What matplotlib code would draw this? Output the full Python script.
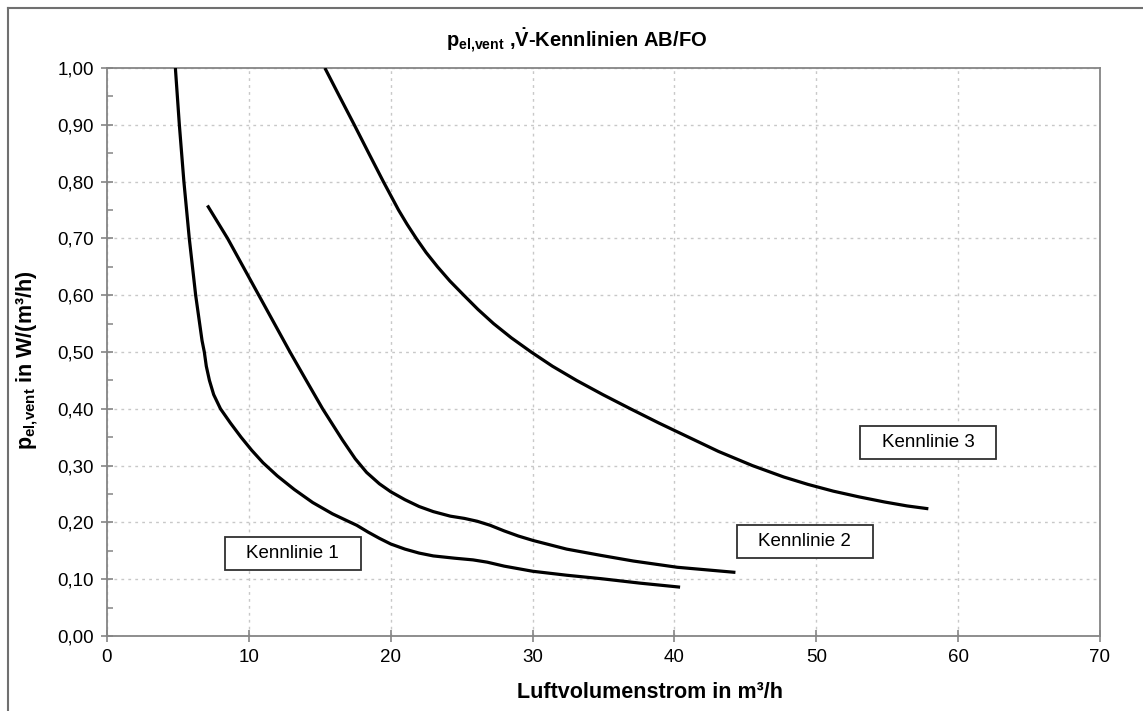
import matplotlib
matplotlib.use("Agg")
from matplotlib import pyplot as plt, patches
from matplotlib.lines import Line2D
from matplotlib.ticker import MultipleLocator

plt.rcParams['font.family'] = ['Liberation Sans', 'DejaVu Sans']
plt.rcParams['mathtext.fontset'] = 'custom'
plt.rcParams['mathtext.rm'] = 'Liberation Sans'
plt.rcParams['mathtext.it'] = 'Liberation Sans'
plt.rcParams['mathtext.bf'] = 'Liberation Sans:bold'

# Data
k1_x = [4.82, 5.1, 5.42, 5.8, 6.25, 6.7, 6.86, 7.0, 7.22, 7.52, 8.0, 8.7, 9.45,
        10.2, 11.0, 12.0, 13.2, 14.5, 15.9, 17.0, 17.6, 18.4, 19.2, 20.0, 21.0,
        22.0, 23.0, 24.5, 25.8, 26.8, 28.0, 30.0, 32.4, 34.8, 37.6, 40.4]
k1_y = [1.00, 0.90, 0.80, 0.70, 0.60, 0.52, 0.50, 0.475, 0.45, 0.425, 0.40, 0.375, 0.35,
        0.327, 0.305, 0.282, 0.258, 0.235, 0.215, 0.202, 0.195, 0.183, 0.172, 0.162, 0.153,
        0.146, 0.141, 0.137, 0.134, 0.130, 0.123, 0.114, 0.107, 0.101, 0.093, 0.086]

k2_x = [7.08, 8.5, 10.7, 12.9, 14.0, 15.2, 16.6, 17.5, 18.3, 19.2, 20.0, 21.0, 22.0,
        23.0, 24.2, 25.2, 26.1, 27.0, 28.0, 29.0, 30.06, 32.4, 34.8, 37.1, 40.2, 44.3]
k2_y = [0.758, 0.700, 0.600, 0.500, 0.452, 0.400, 0.345, 0.312, 0.288, 0.268, 0.254,
        0.240, 0.228, 0.219, 0.211, 0.207, 0.202, 0.195, 0.185, 0.176, 0.168, 0.153,
        0.142, 0.132, 0.121, 0.112]

k3_x = [15.36, 16.39, 17.43, 18.45, 19.48, 20.55, 21.15, 21.8, 22.5, 23.3, 24.17,
        25.15, 26.15, 27.25, 28.5, 29.9, 31.4, 33.1, 34.95, 36.9, 38.9, 41.0, 43.1,
        45.5, 47.7, 49.4, 51.2, 53.0, 54.8, 56.4, 57.9]
k3_y = [1.00, 0.95, 0.90, 0.85, 0.80, 0.75, 0.725, 0.70, 0.675, 0.65, 0.625,
        0.60, 0.575, 0.55, 0.525, 0.50, 0.475, 0.45, 0.425, 0.40, 0.375, 0.35, 0.325,
        0.30, 0.280, 0.267, 0.255, 0.245, 0.236, 0.229, 0.224]

label_texts = ['Kennlinie 1', 'Kennlinie 2', 'Kennlinie 3']
label_x = [13.1, 49.2, 57.9]
label_y = [0.146, 0.166, 0.341]

x_ticks = [0, 10, 20, 30, 40, 50, 60, 70]
y_ticks = [0.0, 0.1, 0.2, 0.3, 0.4, 0.5, 0.6, 0.7, 0.8, 0.9, 1.0]
y_tick_labels = ['0,00', '0,10', '0,20', '0,30', '0,40', '0,50',
                 '0,60', '0,70', '0,80', '0,90', '1,00']

# Plot formatting
W, H = 1143, 711
fig = plt.figure(figsize=(W / 100, H / 100), dpi=100)
ax = fig.add_axes([107 / W, 1 - 636 / H, (1100 - 107) / W, (636 - 68) / H])

ax.set_xlim(0, 70)
ax.set_ylim(0, 1)
ax.set_xticks(x_ticks)
ax.set_yticks(y_ticks)
ax.set_yticklabels(y_tick_labels)
ax.yaxis.set_minor_locator(MultipleLocator(0.05))

spine_color = '#858585'
for s in ax.spines.values():
    s.set_color(spine_color)
    s.set_linewidth(1.3)
ax.tick_params(which='major', direction='inout', length=9, width=1.2,
               color=spine_color, labelsize=13.5, pad=5)
ax.tick_params(axis='y', which='minor', direction='in', length=4, width=1.1,
               color=spine_color)
ax.grid(True, which='major', linestyle=(0, (2, 3)), color='#c8c8c8', linewidth=1)
ax.set_axisbelow(True)

# Curves
for xs, ys in ((k1_x, k1_y), (k2_x, k2_y), (k3_x, k3_y)):
    ax.plot(xs, ys, color='black', linewidth=2.3, solid_capstyle='butt',
            solid_joinstyle='round', zorder=3)

# Labels with boxes
box_w, box_h = 9.6, 0.058
for txt, lx, ly in zip(label_texts, label_x, label_y):
    ax.add_patch(patches.Rectangle((lx - box_w / 2, ly - box_h / 2), box_w, box_h,
                                   facecolor='white', edgecolor='#303030',
                                   linewidth=1.3, zorder=4))
    ax.text(lx, ly, txt, ha='center', va='center', fontsize=13.5, zorder=5)

# Titles
fig.text(577 / W, 1 - 41 / H,
         r'$\mathbf{p}_{\mathbf{el{,}vent}}$ ,$\mathbf{\dot{V}}$-Kennlinien AB/FO',
         ha='center', va='center', fontsize=14.5, fontweight='bold')
fig.text(650 / W, 1 - 692 / H, 'Luftvolumenstrom in m³/h',
         ha='center', va='center', fontsize=15.5, fontweight='bold')
fig.text(27 / W, 1 - 360 / H, r'$\mathbf{p}_{\mathbf{el{,}vent}}$ in W/(m³/h)',
         ha='center', va='center', rotation=90, fontsize=15.5, fontweight='bold')

# Outer frame (left and top edges visible)
fig.add_artist(Line2D([8 / W, 8 / W], [0, 1 - 8 / H], transform=fig.transFigure,
                      color='#707070', linewidth=1.5))
fig.add_artist(Line2D([8 / W, 1], [1 - 8 / H, 1 - 8 / H], transform=fig.transFigure,
                      color='#707070', linewidth=1.5))

fig.savefig('out.png', dpi=100)
